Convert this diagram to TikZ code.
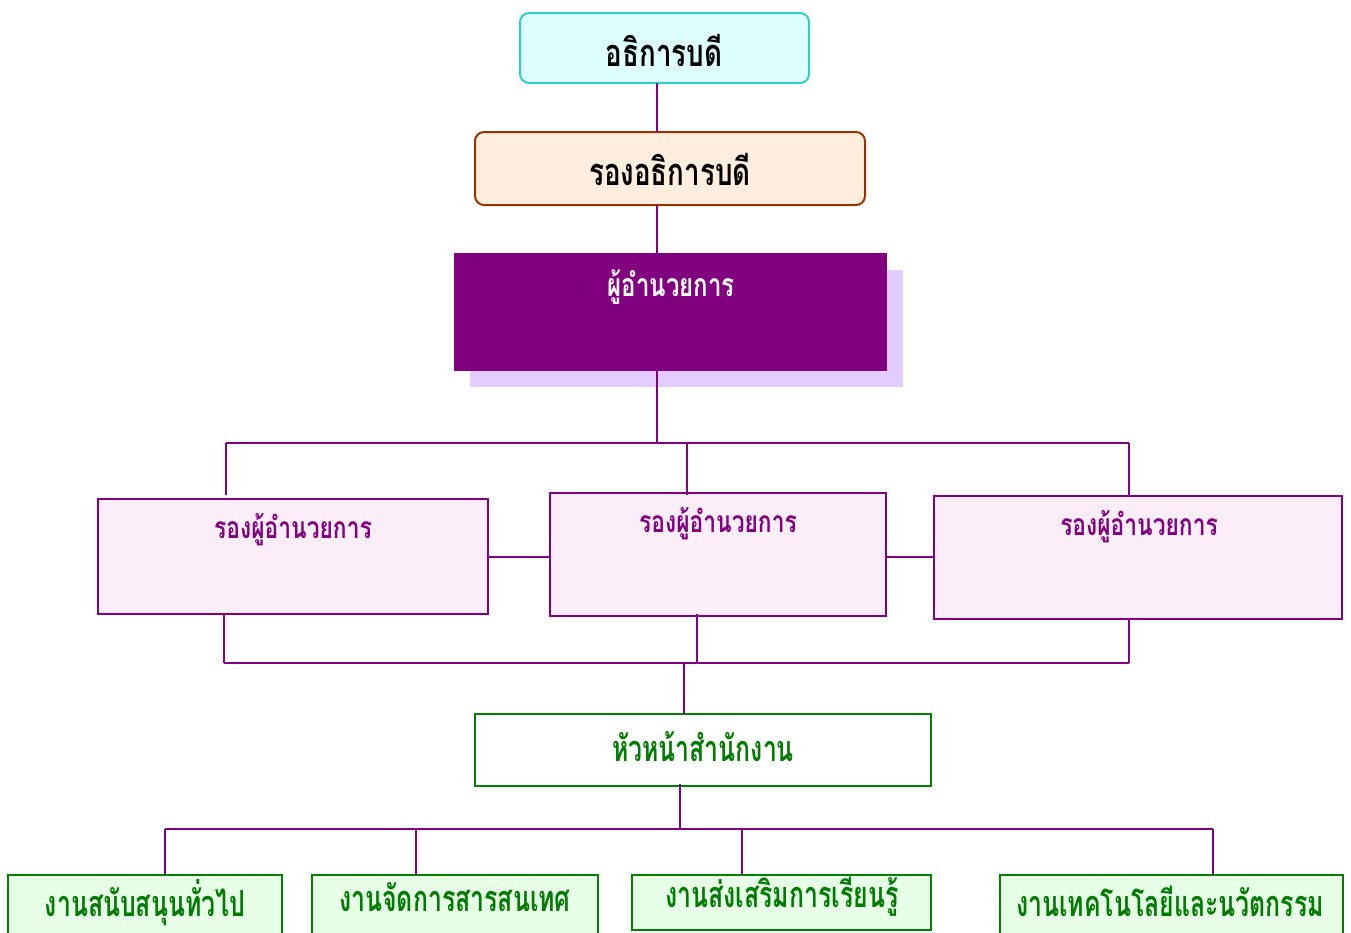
\documentclass[tikz,border=0pt]{standalone}
\usepackage{fontspec}
\usepackage{graphicx}
\newfontfamily\thaifont[Script=Thai]{Loma}
\usetikzlibrary{calc}
\definecolor{linkpurple}{HTML}{800080}
\definecolor{cyanfill}{HTML}{DDFFFF}
\definecolor{cyanedge}{HTML}{33CCCC}
\definecolor{peachfill}{HTML}{FFEEDD}
\definecolor{brownedge}{HTML}{993300}
\definecolor{shadowlilac}{HTML}{E3CCFF}
\definecolor{pinkfill}{HTML}{FCEEF8}
\definecolor{greenedge}{HTML}{008000}
\definecolor{greentext}{HTML}{007A00}
\definecolor{mintfill}{HTML}{E6FFE6}
% narrow setting of a title
\newcommand{\narrowtext}[2]{\scalebox{#1}[1]{#2}}
\begin{document}
\begin{tikzpicture}[x=1pt,y=-1pt,
  every node/.style={inner sep=0pt,outer sep=0pt},
  link/.style={draw=linkpurple,line width=2pt},
  boxbase/.style={anchor=north west,line width=2pt},
  topbox/.style={boxbase,draw=cyanedge,fill=cyanfill,rounded corners=9pt},
  vicebox/.style={boxbase,draw=brownedge,fill=peachfill,rounded corners=9pt},
  headbox/.style={boxbase,fill=linkpurple},
  deputybox/.style={boxbase,draw=linkpurple,fill=pinkfill},
  officebox/.style={boxbase,draw=greenedge,fill=white},
  unitbox/.style={boxbase,draw=greenedge,fill=mintfill},
  bigtitle/.style={font=\thaifont\bfseries\fontsize{38}{42}\selectfont,text=black},
  headtitle/.style={font=\thaifont\bfseries\fontsize{32}{36}\selectfont,text=white},
  deputytitle/.style={font=\thaifont\bfseries\fontsize{30}{34}\selectfont,text=linkpurple},
  unittitle/.style={font=\thaifont\bfseries\fontsize{36}{40}\selectfont,text=greentext}]
\useasboundingbox (0,0) rectangle (1351,932);
\clip (0,0) rectangle (1351,932);

% top level
\node[topbox,minimum width=289pt,minimum height=70pt] (rector) at (520,13) {};
\node[bigtitle] (rectorT) at (664,50) {\narrowtext{0.73}{อธิการบดี}};
\node[vicebox,minimum width=390pt,minimum height=73pt] (vice) at (475,132) {};
\node[bigtitle] (viceT) at (670,169) {\narrowtext{0.73}{รองอธิการบดี}};

% director with offset shadow
\fill[shadowlilac] (470,270) rectangle (903,387);
\node[headbox,minimum width=433pt,minimum height=118pt] (director) at (454,253) {};
\node[headtitle] (directorT) at (671,287) {\narrowtext{0.75}{ผู้อำนวยการ}};

% deputy directors
\node[deputybox,minimum width=390pt,minimum height=115pt] (depA) at (98,499) {};
\node[deputybox,minimum width=336pt,minimum height=123pt] (depB) at (550,493) {};
\node[deputybox,minimum width=408pt,minimum height=123pt] (depC) at (934,496) {};
\node[deputytitle] (depAT) at (293,530) {\narrowtext{0.76}{รองผู้อำนวยการ}};
\node[deputytitle] (depBT) at (718,524) {\narrowtext{0.76}{รองผู้อำนวยการ}};
\node[deputytitle] (depCT) at (1139,527) {\narrowtext{0.76}{รองผู้อำนวยการ}};

% office head
\node[officebox,minimum width=456pt,minimum height=72pt] (office) at (475,714) {};
\node[unittitle] (officeT) at (703,747) {\narrowtext{0.69}{หัวหน้าสำนักงาน}};

% work units
\node[unitbox,minimum width=274pt,minimum height=80pt] (unitA) at (8,875) {};
\node[unitbox,minimum width=286pt,minimum height=80pt] (unitB) at (312,875) {};
\node[unitbox,minimum width=299pt,minimum height=55pt] (unitC) at (632,875) {};
\node[unitbox,minimum width=343pt,minimum height=80pt] (unitD) at (1000,875) {};
\node[unittitle] (unitAT) at (145,903) {\narrowtext{0.69}{งานสนับสนุนทั่วไป}};
\node[unittitle] (unitBT) at (455,897) {\narrowtext{0.69}{งานจัดการสารสนเทศ}};
\node[unittitle] (unitCT) at (782,897) {\narrowtext{0.69}{งานส่งเสริมการเรียนรู้}};
\node[unittitle] (unitDT) at (1170,901) {\narrowtext{0.69}{งานเทคโนโลยีและนวัตกรรม}};

% bus points
\coordinate (busTop) at (657,443);
\coordinate (busMid) at (684,663);
\coordinate (busLow) at (680,829);

% chain from the rector down to the director
\draw[link] (rector.south -| busTop) -- (vice.north -| busTop);
\draw[link] (vice.south -| busTop) -- (director.north -| busTop);
\draw[link] (director.south -| busTop) -- (busTop);

% upper bus to the deputies
\draw[link] (226,443) -- (1129,443);
\draw[link] (226,443) -- (226,495);
\draw[link] (687,443) -- (687,495);
\draw[link] (1129,443) -- (1129,495);
\draw[link] (depA.east) -- (depB.west |- depA.east);
\draw[link] (depB.east |- depA.east) -- (depC.west |- depA.east);

% lower bus from the deputies to the office head
\draw[link] (224,614) -- (224,663);
\draw[link] (697,614) -- (697,663);
\draw[link] (1129,619) -- (1129,663);
\draw[link] (224,663) -- (1129,663);
\draw[link] (busMid) -- (office.north -| busMid);

% bus to the work units
\draw[link] (680,784) -- (busLow);
\draw[link] (165,829) -- (1213,829);
\draw[link] (165,829) -- (unitA.north -| 165,0);
\draw[link] (416,829) -- (unitB.north -| 416,0);
\draw[link] (742,829) -- (unitC.north -| 742,0);
\draw[link] (1213,829) -- (unitD.north -| 1213,0);
\end{tikzpicture}
\end{document}
